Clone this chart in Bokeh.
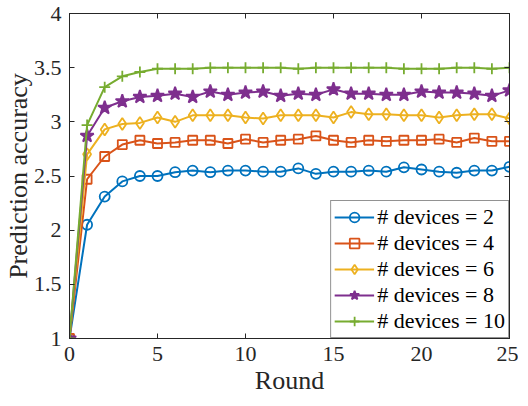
from bokeh.plotting import figure
from bokeh.models import Range1d, FixedTicker, LinearAxis, Legend, LegendItem, CustomJSTickFormatter
from bokeh.embed import file_html
from bokeh.resources import INLINE

rounds = list(range(26))
labels = ["# devices = 2", "# devices = 4", "# devices = 6", "# devices = 8", "# devices = 10"]
dev2 = [1.00, 2.05, 2.31, 2.45, 2.50, 2.50, 2.535, 2.55, 2.535, 2.55, 2.55, 2.54, 2.54,
        2.57, 2.52, 2.54, 2.54, 2.55, 2.54, 2.58, 2.56, 2.54, 2.53, 2.55, 2.55, 2.585]
dev4 = [1.00, 2.47, 2.68, 2.79, 2.83, 2.80, 2.81, 2.83, 2.83, 2.80, 2.84, 2.81, 2.83,
        2.84, 2.87, 2.83, 2.81, 2.83, 2.82, 2.83, 2.83, 2.84, 2.81, 2.85, 2.82, 2.82]
dev6 = [1.00, 2.70, 2.93, 2.98, 2.99, 3.04, 3.00, 3.06, 3.06, 3.06, 3.04, 3.03, 3.06,
        3.06, 3.06, 3.04, 3.09, 3.07, 3.07, 3.06, 3.06, 3.04, 3.06, 3.07, 3.07, 3.03]
dev8 = [1.00, 2.87, 3.13, 3.19, 3.23, 3.24, 3.26, 3.23, 3.28, 3.25, 3.27, 3.28, 3.24,
        3.26, 3.25, 3.30, 3.26, 3.26, 3.25, 3.25, 3.28, 3.27, 3.27, 3.26, 3.24, 3.29]
dev10 = [1.00, 2.97, 3.32, 3.42, 3.46, 3.49, 3.49, 3.49, 3.50, 3.50, 3.50, 3.50, 3.50,
         3.49, 3.50, 3.50, 3.50, 3.50, 3.50, 3.49, 3.49, 3.49, 3.50, 3.50, 3.49, 3.50]
x_ticks = [0, 5, 10, 15, 20, 25]
y_ticks = [1, 1.5, 2, 2.5, 3, 3.5, 4]
y_tick_labels = ["1", "1.5", "2", "2.5", "3", "3.5", "4"]

colors = ["#0072BD", "#D95319", "#EDB120", "#7E2F8E", "#77AC30"]
markers = ["circle", "square", "diamond", "star", "cross"]
msizes = [10, 9, 12, 14, 11]
fills = [None, None, None, "#7E2F8E", None]
series = [dev2, dev4, dev6, dev8, dev10]

FONT = "Liberation Serif"
AX = "#262626"

p = figure(frame_width=440, frame_height=325, output_backend="svg", toolbar_location=None,
           x_range=Range1d(0, 25), y_range=Range1d(1, 4),
           min_border_left=67, min_border_right=9, min_border_top=13, min_border_bottom=65)
p.outline_line_color = AX
p.outline_line_width = 1
p.xgrid.visible = False
p.ygrid.visible = False

items = []
for ys, c, m, s, f, lab in zip(series, colors, markers, msizes, fills, labels):
    r1 = p.line(rounds, ys, line_color=c, line_width=2)
    r2 = p.scatter(rounds, ys, marker=m, size=s, line_color=c, line_width=1.8,
                   fill_color=f)
    items.append(LegendItem(label=lab, renderers=[r1, r2]))

def style(ax):
    ax.major_tick_in = 5
    ax.major_tick_out = 0
    ax.minor_tick_in = 0
    ax.minor_tick_out = 0
    ax.axis_line_color = AX
    ax.major_tick_line_color = AX
    ax.major_label_text_font = FONT
    ax.major_label_text_color = AX
    ax.major_label_text_font_size = "22px"
    ax.axis_label_text_font = FONT
    ax.axis_label_text_font_style = "normal"
    ax.axis_label_text_color = AX
    ax.axis_label_text_font_size = "26px"

xa = p.xaxis[0]
ya = p.yaxis[0]
xa.ticker = FixedTicker(ticks=x_ticks)
ya.ticker = FixedTicker(ticks=y_ticks)
ya.major_label_overrides = {t: l for t, l in zip(y_ticks, y_tick_labels)}
style(xa)
style(ya)
xa.axis_label = "Round"
ya.axis_label = "Prediction accuracy"
xa.major_label_standoff = 8
ya.major_label_standoff = 8
xa.axis_label_standoff = 2
ya.axis_label_standoff = -2

blank = CustomJSTickFormatter(code="return ''")
top = LinearAxis(ticker=FixedTicker(ticks=x_ticks), formatter=blank)
right = LinearAxis(ticker=FixedTicker(ticks=y_ticks), formatter=blank)
style(top)
style(right)
top.major_label_standoff = 0
right.major_label_standoff = 0
p.add_layout(top, "above")
p.add_layout(right, "right")

leg = Legend(items=items, location="bottom_right")
leg.label_text_font = FONT
leg.label_text_font_size = "22px"
leg.label_text_color = "black"
leg.border_line_color = AX
leg.border_line_width = 1
leg.background_fill_color = "white"
leg.background_fill_alpha = 1
leg.glyph_width = 40
leg.glyph_height = 24
leg.label_height = 24
leg.label_standoff = 3
leg.spacing = 0
leg.padding = 3
leg.margin = 0
p.add_layout(leg)

open("out.html", "w").write(file_html(p, INLINE))
